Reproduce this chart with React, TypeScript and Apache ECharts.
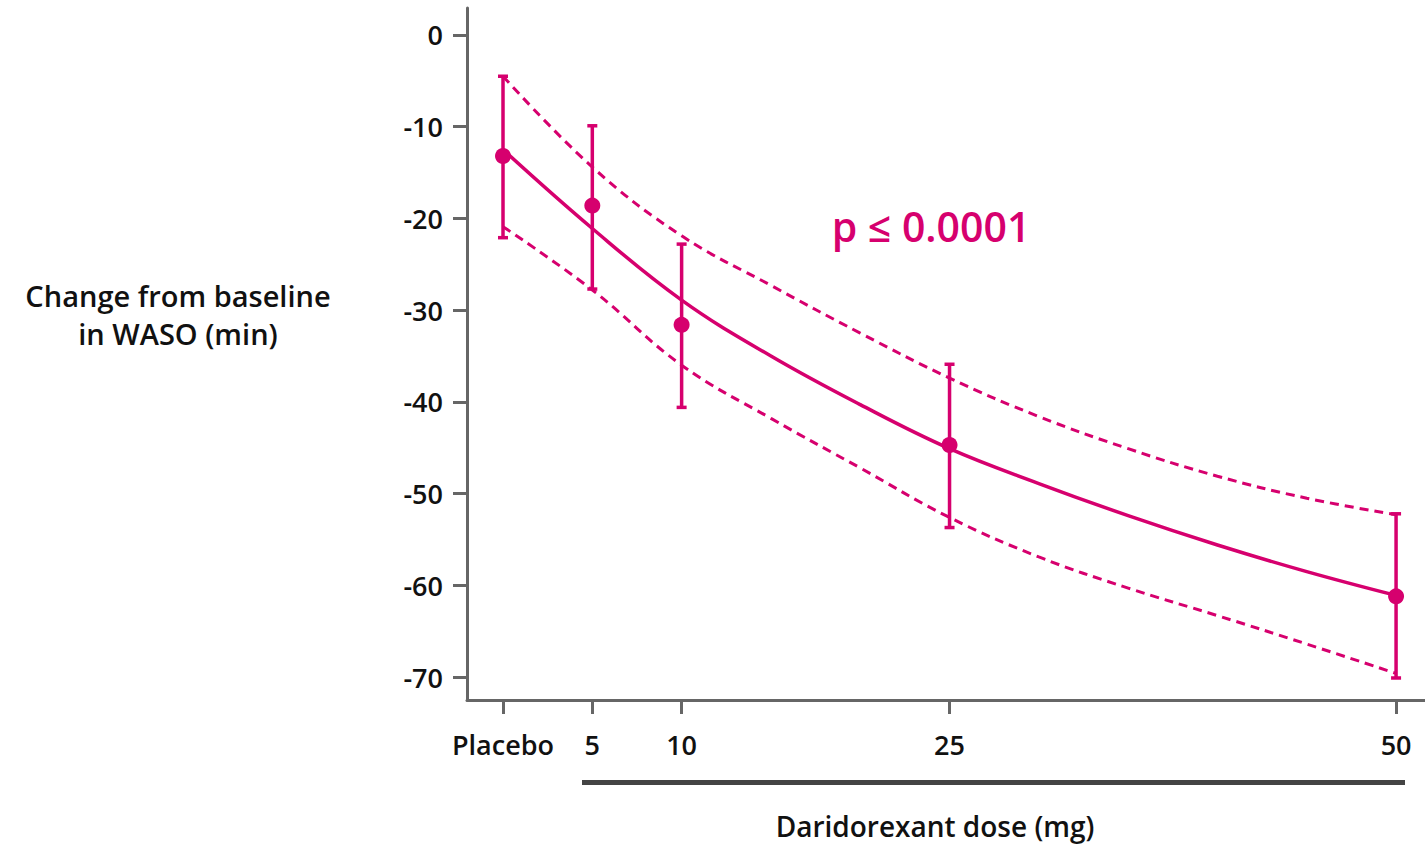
import React, { useEffect, useRef } from "react";
import * as echarts from "echarts";

const doses = [0, 5, 10, 25, 50];
const doseLabels = ["Placebo", "5", "10", "25", "50"];
const observedMean = [-13.2, -18.6, -31.6, -44.7, -61.2];
const errorLow = [-22.1, -27.7, -40.6, -53.7, -70.1];
const errorHigh = [-4.5, -9.9, -22.8, -35.9, -52.2];

const curveDoses = [0, 5, 10, 15, 20, 25, 30, 35, 40, 45, 50];
const fitMean = [-12.5, -21.1, -28.9, -35.0, -40.3, -45.1, -48.9, -52.4, -55.6, -58.5, -61.1];
const fitUpper = [-4.5, -14.4, -21.9, -27.3, -32.5, -37.4, -41.6, -45.1, -48.1, -50.5, -52.3];
const fitLower = [-20.9, -27.8, -36.0, -41.8, -47.2, -52.6, -56.9, -60.3, -63.3, -66.4, -69.6];

const yTicks = [0, -10, -20, -30, -40, -50, -60, -70];

const MAGENTA = "#D6006E";
const AXIS = "#666666";
const FONT = "'Open Sans', 'Noto Sans', sans-serif";

export default function App() {
  const ref = useRef<HTMLDivElement>(null);
  useEffect(() => {
    if (!ref.current) return;
    const chart = echarts.init(ref.current, undefined, { renderer: "svg" });
    const zip = (xs: number[], ys: number[]) => xs.map((x, i) => [x, ys[i]]);
    chart.setOption({
      animation: false,
      grid: { left: 467, right: 0, top: 8, bottom: 145, containLabel: false },
      xAxis: {
        type: "value",
        min: -2.016,
        max: 51.62,
        axisLine: { show: true, onZero: false, lineStyle: { color: AXIS, width: 3 } },
        axisTick: { show: true, length: 14, customValues: doses, lineStyle: { color: AXIS, width: 3 } },
        splitLine: { show: false },
        axisLabel: {
          customValues: doses,
          margin: 31,
          fontSize: 27,
          fontWeight: 600,
          fontFamily: FONT,
          color: "#111",
          formatter: (v: number) => {
            const i = doses.indexOf(v);
            return i >= 0 ? doseLabels[i] : "";
          },
        },
      },
      yAxis: {
        type: "value",
        min: -72.5,
        max: 2.94,
        axisLine: { show: true, onZero: false, lineStyle: { color: AXIS, width: 3 } },
        axisTick: { show: true, length: 14, customValues: yTicks, lineStyle: { color: AXIS, width: 3 } },
        splitLine: { show: false },
        axisLabel: {
          customValues: yTicks,
          margin: 24,
          fontSize: 27,
          fontWeight: 600,
          fontFamily: FONT,
          color: "#111",
        },
      },
      series: [
        {
          type: "line",
          data: zip(curveDoses, fitUpper),
          smooth: 0.4,
          showSymbol: false,
          lineStyle: { color: MAGENTA, width: 3, type: [9, 6] },
          z: 2,
        },
        {
          type: "line",
          data: zip(curveDoses, fitLower),
          smooth: 0.4,
          showSymbol: false,
          lineStyle: { color: MAGENTA, width: 3, type: [9, 6] },
          z: 2,
        },
        {
          type: "line",
          data: zip(curveDoses, fitMean),
          smooth: 0.4,
          showSymbol: false,
          lineStyle: { color: MAGENTA, width: 3.5 },
          z: 3,
        },
        {
          type: "custom",
          data: doses.map((d, i) => [d, errorLow[i], errorHigh[i]]),
          renderItem: (params: any, api: any) => {
            const x = api.value(0);
            const lo = api.coord([x, api.value(1)]);
            const hi = api.coord([x, api.value(2)]);
            const hw = 5;
            const style = { stroke: MAGENTA, lineWidth: 3.5, fill: "none" };
            return {
              type: "group",
              children: [
                { type: "line", shape: { x1: lo[0], y1: lo[1], x2: hi[0], y2: hi[1] }, style },
                { type: "line", shape: { x1: lo[0] - hw, y1: lo[1], x2: lo[0] + hw, y2: lo[1] }, style },
                { type: "line", shape: { x1: hi[0] - hw, y1: hi[1], x2: hi[0] + hw, y2: hi[1] }, style },
              ],
            };
          },
          z: 4,
        },
        {
          type: "scatter",
          data: zip(doses, observedMean),
          symbol: "circle",
          symbolSize: 16,
          itemStyle: { color: MAGENTA, opacity: 1 },
          z: 5,
        },
      ],
      graphic: [
        {
          type: "text",
          x: 931,
          y: 226,
          style: {
            text: "p ≤ 0.0001",
            fill: MAGENTA,
            fontSize: 41,
            fontWeight: 600,
            fontFamily: FONT,
            align: "center",
            verticalAlign: "middle",
          },
        },
        {
          type: "text",
          x: 178,
          y: 314,
          style: {
            text: "Change from baseline\nin WASO (min)",
            fill: "#111",
            fontSize: 29,
            fontWeight: 600,
            lineHeight: 38,
            fontFamily: FONT,
            align: "center",
            verticalAlign: "middle",
          },
        },
        {
          type: "rect",
          shape: { x: 582, y: 780, width: 823, height: 5 },
          style: { fill: "#444444" },
        },
        {
          type: "text",
          x: 935,
          y: 826,
          style: {
            text: "Daridorexant dose (mg)",
            fill: "#111",
            fontSize: 28,
            fontWeight: 600,
            lineHeight: 30,
            fontFamily: FONT,
            align: "center",
            verticalAlign: "middle",
          },
        },
      ],
    });
    return () => chart.dispose();
  }, []);
  return (
    <div
      ref={ref}
      style={{ position: "fixed", left: 0, top: 0, width: 1425, height: 845, background: "#fff" }}
    />
  );
}
